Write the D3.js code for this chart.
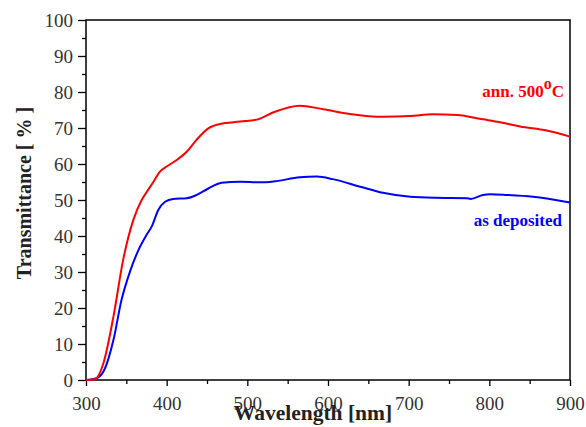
<!DOCTYPE html>
<html>
<head>
<meta charset="utf-8">
<script src="https://cdn.jsdelivr.net/npm/d3@7"></script>
<style>
  body { margin: 0; background: #fff; }
  svg text { font-family: "Liberation Serif", "Times New Roman", serif; }
</style>
</head>
<body>
<svg id="chart" width="586" height="427"></svg>
<script>
// annealed film (red)
var annWave = [300, 311, 321.5, 334, 346, 358.6, 369, 377, 383.5, 391.7, 400, 412.4, 424.8, 437, 451.6, 466, 491, 513,
    534, 565, 594, 627, 668, 702, 730, 760, 792, 813, 838, 871, 900];
var annT = [0, 0.2, 4.6, 17.6, 33.3, 44.4, 50, 52.8, 55, 57.9, 59.3, 61.1, 63.4, 66.7, 69.9, 71.1, 71.8, 72.4,
    74.5, 76.2, 75.2, 73.9, 73.1, 73.3, 73.8, 73.6, 72.4, 71.6, 70.4, 69.3, 67.6];

// as deposited film (blue)
var depWave = [300, 313, 323.5, 334, 344, 354.5, 365, 375, 381.4, 389.6, 398, 408, 424.8, 437, 451.6, 468, 491, 515.7,
    534, 565, 586, 606, 640, 668, 702, 733, 772, 777, 792, 801, 822, 854, 900];
var depT = [0, 0.5, 3.2, 11.1, 22.2, 30.1, 36.1, 40.3, 42.6, 47.2, 49.5, 50.3, 50.5, 51.4, 53.2, 54.8, 55.1, 54.9,
    55.2, 56.3, 56.5, 55.8, 53.7, 52.0, 50.9, 50.6, 50.5, 50.3, 51.4, 51.6, 51.4, 50.9, 49.3];

var xTicks = [300, 400, 500, 600, 700, 800, 900];
var yTicks = [0, 10, 20, 30, 40, 50, 60, 70, 80, 90, 100];

var svg = d3.select("#chart");
var plotL = 86, plotR = 570, plotT = 20, plotB = 380;

var x = d3.scaleLinear().domain([300, 900]).range([plotL, plotR]);
var y = d3.scaleLinear().domain([0, 100]).range([plotB, plotT]);

// frame
svg.append("rect")
    .attr("x", plotL).attr("y", plotT)
    .attr("width", plotR - plotL).attr("height", plotB - plotT)
    .attr("fill", "none").attr("stroke", "#000").attr("stroke-width", 1.5);

// minor ticks
svg.append("g").attr("transform", "translate(0," + plotB + ")")
    .call(d3.axisBottom(x).tickValues(d3.range(350, 900, 100)).tickSize(4).tickFormat(""))
    .call(function(g) { g.select(".domain").remove(); g.selectAll("line").attr("stroke-width", 1.3); });
svg.append("g").attr("transform", "translate(" + plotL + ",0)")
    .call(d3.axisLeft(y).tickValues(d3.range(5, 100, 10)).tickSize(4).tickFormat(""))
    .call(function(g) { g.select(".domain").remove(); g.selectAll("line").attr("stroke-width", 1.3); });

// major ticks
var xAxis = svg.append("g").attr("transform", "translate(0," + plotB + ")")
    .call(d3.axisBottom(x).tickValues(xTicks).tickSize(6).tickPadding(11).tickFormat(d3.format("d")));
var yAxis = svg.append("g").attr("transform", "translate(" + plotL + ",0)")
    .call(d3.axisLeft(y).tickValues(yTicks).tickSize(8).tickPadding(5).tickFormat(d3.format("d")));

[xAxis, yAxis].forEach(function(g) {
    g.select(".domain").remove();
    g.selectAll("line").attr("stroke-width", 1.3);
    g.selectAll("text")
        .attr("font-family", "Liberation Serif, serif")
        .attr("font-size", 19)
        .attr("fill", "#333");
});

// curves
var line = d3.line()
    .x(function(d) { return x(d[0]); })
    .y(function(d) { return y(d[1]); })
    .curve(d3.curveMonotoneX);

svg.append("path")
    .datum(depWave.map(function(w, i) { return [w, depT[i]]; }))
    .attr("d", line).attr("fill", "none").attr("stroke", "#0000ff").attr("stroke-width", 2);
svg.append("path")
    .datum(annWave.map(function(w, i) { return [w, annT[i]]; }))
    .attr("d", line).attr("fill", "none").attr("stroke", "#ff0000").attr("stroke-width", 2);

// axis titles
svg.append("text")
    .attr("x", 313).attr("y", 420)
    .attr("text-anchor", "middle")
    .attr("font-size", 21.5).attr("font-weight", "bold").attr("fill", "#222")
    .text("Wavelength [nm]");
svg.append("text")
    .attr("transform", "translate(31,193) rotate(-90)")
    .attr("text-anchor", "middle")
    .attr("font-size", 20).attr("font-weight", "bold").attr("fill", "#222")
    .text("Transmittance [ % ]");

// labels
var ann = svg.append("text")
    .attr("x", 564).attr("y", 97)
    .attr("text-anchor", "end")
    .attr("font-size", 17).attr("font-weight", "bold").attr("fill", "#ff0000");
ann.append("tspan").text("ann. 500");
ann.append("tspan").attr("dy", -8).attr("font-size", 16).text("o");
ann.append("tspan").attr("dy", 8).text("C");

svg.append("text")
    .attr("x", 562).attr("y", 226)
    .attr("text-anchor", "end")
    .attr("font-size", 17).attr("font-weight", "bold").attr("fill", "#0000ff")
    .text("as deposited");
</script>
</body>
</html>
